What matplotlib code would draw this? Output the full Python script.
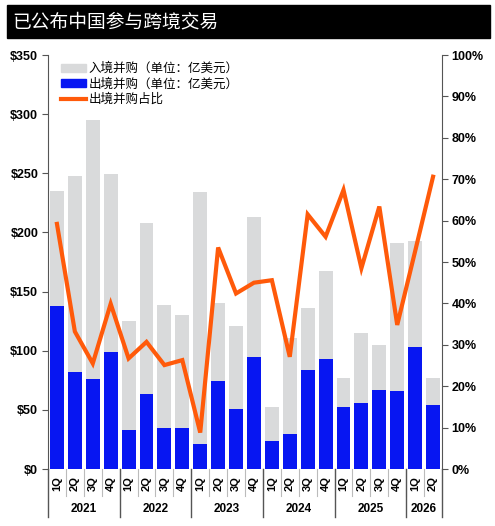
import matplotlib
matplotlib.use('Agg')
import matplotlib.pyplot as plt
import matplotlib.transforms as mtransforms
from matplotlib.patches import Patch
from matplotlib.lines import Line2D

plt.rcParams['font.family'] = ['Liberation Sans', 'Noto Sans CJK SC', 'DejaVu Sans']

# 数据（单位：亿美元）
quarters = ['1Q', '2Q', '3Q', '4Q'] * 5 + ['1Q', '2Q']
years = ['2021', '2022', '2023', '2024', '2025', '2026']
year_sizes = [4, 4, 4, 4, 4, 2]
outbound = [138, 82, 76, 99, 33, 63, 35, 35, 21, 74, 51, 95,
            24, 30, 84, 93, 52, 56, 67, 66, 103, 54]
inbound = [97, 166, 219, 150, 92, 145, 104, 95, 213, 66, 70, 118,
           28, 81, 52, 74, 25, 59, 38, 125, 90, 23]
share = [59.2, 33.2, 25.5, 39.9, 26.7, 30.7, 25.1, 26.3, 8.8, 53.5, 42.4, 45.0,
         45.6, 27.1, 61.5, 56.1, 67.4, 48.5, 63.4, 34.8, 52.6, 70.6]

grey = '#d9dadb'
blue = '#0716f2'
orange = '#ff5a0a'
axis_col = '#555555'

fig = plt.figure(figsize=(4.95, 5.26), dpi=100)

# 标题栏
fig.patches.append(plt.Rectangle((7 / 495, 1 - 38 / 526), 483 / 495, 33 / 526,
                                 transform=fig.transFigure, color='black', zorder=0))
fig.text(12 / 495, 1 - 21.5 / 526, '已公布中国参与跨境交易', color='white', fontsize=13.5,
         family=['Noto Sans CJK SC'], va='center', ha='left')

ax = fig.add_axes([48 / 495, 57 / 526, 394 / 495, 414 / 526])
x = list(range(len(outbound)))
ax.bar(x, outbound, width=0.78, color=blue, zorder=2)
ax.bar(x, inbound, width=0.78, bottom=outbound, color=grey, zorder=2)
ax.set_xlim(-0.5, len(x) - 0.5)
ax.set_ylim(0, 350)
ax.set_yticks(range(0, 351, 50))
ax.set_yticklabels([f'${v}' for v in range(0, 351, 50)], fontweight='bold', fontsize=9)
ax.set_xticks([])
for s in ['top', 'bottom', 'right']:
    ax.spines[s].set_visible(False)
ax.spines['left'].set_color(axis_col)
ax.tick_params(axis='y', direction='out', length=4, color=axis_col, pad=3)

ax2 = ax.twinx()
ax2.plot(x, share, color=orange, linewidth=3, solid_joinstyle='miter', zorder=3)
ax2.set_ylim(0, 100)
ax2.set_yticks(range(0, 101, 10))
ax2.set_yticklabels([f'{v}%' for v in range(0, 101, 10)], fontweight='bold', fontsize=9)
for s in ['top', 'bottom', 'left']:
    ax2.spines[s].set_visible(False)
ax2.spines['right'].set_color(axis_col)
ax2.tick_params(axis='y', direction='out', length=4, color=axis_col, pad=3)

# 横轴分类标签与分隔线
trans = mtransforms.blended_transform_factory(ax.transData, ax.transAxes)
for i, q in enumerate(quarters):
    ax.text(i, -0.035, q, transform=trans, rotation=90, ha='center', va='center',
            fontsize=8, fontweight='bold')
for i in range(1, len(x)):
    ax.plot([i - 0.5, i - 0.5], [0, -0.065], transform=trans, color='#bbbbbb',
            linewidth=0.8, clip_on=False)
pos = 0
bounds = [-0.5]
for y, n in zip(years, year_sizes):
    ax.text(pos + (n - 1) / 2, -0.097, y, transform=trans, ha='center', va='center',
            fontsize=8.5, fontweight='bold')
    pos += n
    bounds.append(pos - 0.5)
for b in bounds:
    ax.plot([b, b], [0, -0.115], transform=trans, color=axis_col,
            linewidth=1, clip_on=False)

# 图例
handles = [Patch(color=grey), Patch(color=blue), Line2D([], [], color=orange, linewidth=3)]
labels = ['入境并购（单位：亿美元）', '出境并购（单位：亿美元）', '出境并购占比']
leg = ax2.legend(handles, labels, loc='upper left', bbox_to_anchor=(0.02, 0.995),
                 frameon=False, prop={'family': ['Noto Sans CJK SC'], 'size': 9},
                 handlelength=2.0, handleheight=0.6, handletextpad=0.2,
                 labelspacing=0.2, borderaxespad=0)

fig.savefig('out.png', dpi=100, facecolor='white')
